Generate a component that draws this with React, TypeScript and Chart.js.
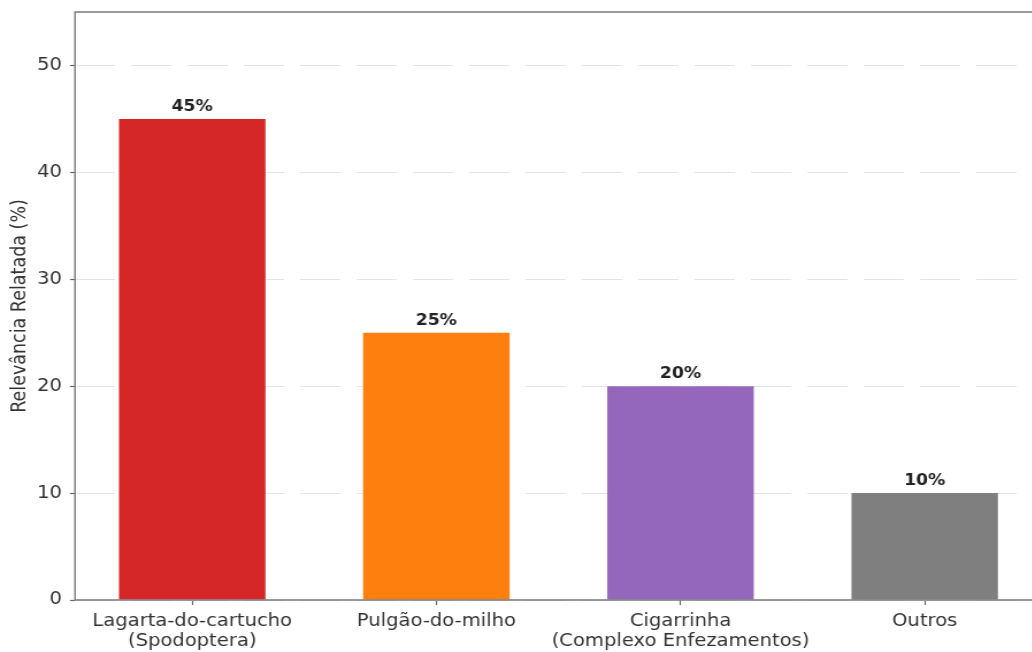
import React, { useEffect, useRef } from "react";
import { Chart, registerables } from "chart.js";

Chart.register(...registerables);

// ---- data ----
const categories: string[][] = [
  ["Lagarta-do-cartucho", "(Spodoptera)"],
  ["Pulgão-do-milho"],
  ["Cigarrinha", "(Complexo Enfezamentos)"],
  ["Outros"],
];
const values: number[] = [45, 25, 20, 10];
const barColors: string[] = ["#d62728", "#ff7f0e", "#9467bd", "#7f7f7f"];
const valueLabels: string[] = values.map((v) => `${v}%`);
const yTitle = "Relevância Relatada (%)";
const yMin = 0;
const yMax = 55;
const yStep = 10;
const xMin = -0.48;
const xMax = 3.48;

// ---- layout (internal canvas px; canvas is stretched horizontally by S) ----
const S = 1.15;
const W = 920;
const H = 652;
const FONT = '"DejaVu Sans", sans-serif';

const framePlugin = {
  id: "frame",
  afterDatasetsDraw(chart: any) {
    const { ctx, chartArea } = chart;
    const { left, right, top, bottom } = chartArea;
    ctx.save();
    ctx.strokeStyle = "#7a7a7a";
    ctx.lineWidth = 1.4;
    ctx.beginPath();
    ctx.moveTo(left, bottom);
    ctx.lineTo(left, top);
    ctx.lineTo(right, top);
    ctx.lineTo(right, bottom);
    ctx.closePath();
    ctx.stroke();

    const meta = chart.getDatasetMeta(0);
    ctx.font = `bold 15px ${FONT}`;
    ctx.fillStyle = "#222";
    ctx.textAlign = "center";
    ctx.textBaseline = "alphabetic";
    meta.data.forEach((bar: any, i: number) => {
      ctx.fillText(valueLabels[i], bar.x, bar.y - 8);
    });
    ctx.restore();
  },
};

export default function App() {
  const ref = useRef<HTMLCanvasElement | null>(null);

  useEffect(() => {
    if (!ref.current) return;
    const chart = new Chart(ref.current, {
      type: "bar",
      data: {
        datasets: [
          {
            data: values.map((v, i) => ({ x: i, y: v })),
            backgroundColor: barColors,
            borderWidth: 0,
            barPercentage: 0.6,
            categoryPercentage: 1.0,
          },
        ],
      },
      options: {
        animation: false,
        responsive: true,
        maintainAspectRatio: false,
        layout: { padding: { top: 12, left: 0, right: 14, bottom: 0 } },
        plugins: {
          legend: { display: false },
          tooltip: { enabled: false },
          title: { display: false },
        },
        scales: {
          x: {
            type: "linear",
            min: xMin,
            max: xMax,
            offset: false,
            afterBuildTicks(scale: any) {
              scale.ticks = categories.map((_, i) => ({ value: i }));
            },
            afterFit(scale: any) {
              scale.height = 52;
              scale.paddingLeft = 0;
              scale.paddingRight = 0;
            },
            grid: {
              offset: false,
              drawOnChartArea: false,
              drawTicks: true,
              tickLength: 5,
              tickColor: "#666",
              tickWidth: 1.2,
            },
            border: { display: false },
            ticks: {
              autoSkip: false,
              maxRotation: 0,
              minRotation: 0,
              padding: 6,
              color: "#333",
              font: { family: FONT, size: 17 },
              callback: (value: any) => {
                const i = Math.round(Number(value));
                return categories[i] ?? "";
              },
            },
          },
          y: {
            min: yMin,
            max: yMax,
            afterFit(scale: any) {
              scale.width = 75 / S;
              scale.paddingTop = 0;
              scale.paddingBottom = 0;
            },
            grid: {
              color: "#e4e4e4",
              lineWidth: 1,
              drawTicks: true,
              tickLength: 4.3,
              tickColor: "#666",
              tickWidth: 1.2,
              tickBorderDash: [],
            },
            border: { display: false, dash: [35, 14] },
            ticks: {
              stepSize: yStep,
              includeBounds: false,
              padding: 7,
              color: "#333",
              font: { family: FONT, size: 17 },
            },
            title: {
              display: true,
              text: yTitle,
              color: "#333",
              font: { family: FONT, size: 17.5 },
              padding: { top: 7, bottom: 0 },
            },
          },
        },
      } as any,
      plugins: [framePlugin],
    });
    return () => chart.destroy();
  }, []);

  return (
    <div
      style={{
        position: "fixed",
        left: 0,
        top: 0,
        width: 1032,
        height: 652,
        overflow: "hidden",
        background: "#fff",
      }}
    >
      <div
        style={{
          position: "absolute",
          left: 0,
          top: 0,
          width: W,
          height: H,
          transform: `scaleX(${S})`,
          transformOrigin: "0 0",
        }}
      >
        <canvas ref={ref} />
      </div>
    </div>
  );
}
